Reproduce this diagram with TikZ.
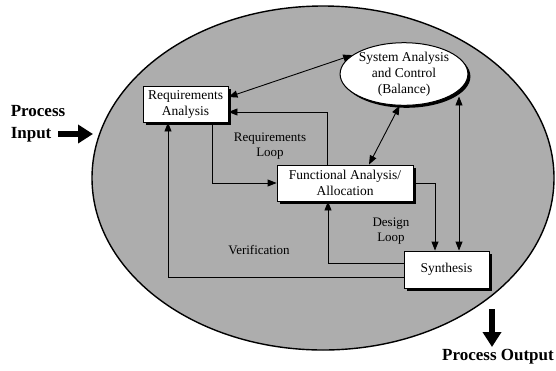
\documentclass[tikz,border=0pt]{standalone}
\usepackage{fontspec}
\setmainfont{Liberation Serif}
\usetikzlibrary{arrows.meta,shadows,calc,shapes.geometric}
\begin{document}
\begin{tikzpicture}[x=1pt,y=-1pt,
  box/.style={draw,fill=white,line width=0.9pt,align=center,inner sep=0pt,
    font=\fontsize{13.5}{16}\selectfont,
    drop shadow={shadow xshift=3pt,shadow yshift=-3pt,fill=black,opacity=1}},
  lbl/.style={align=center,font=\fontsize{13}{15}\selectfont},
  big/.style={align=left,font=\fontsize{17}{22}\selectfont\bfseries,inner sep=0pt},
  arr/.style={line width=0.9pt,-{Triangle[length=9pt,width=7pt]}},
  darr/.style={line width=0.9pt,{Triangle[length=9pt,width=7pt]}-{Triangle[length=9pt,width=7pt]}},
  fat/.style={line width=6pt,-{Triangle[length=15pt,width=18pt]}}]
\useasboundingbox (0,0) rectangle (556,370);
% big process ellipse
\draw[line width=1.4pt,fill=black!32] (323,178) ellipse [x radius=231pt,y radius=172pt];
% nodes
\node[box,minimum width=85pt,minimum height=36pt] (R) at (185.5,104) {Requirements\\Analysis};
\node[box,minimum width=136pt,minimum height=36pt] (F) at (345,183) {Functional Analysis/\\Allocation};
\node[box,minimum width=85pt,minimum height=37pt] (S) at (446.5,269.5) {Synthesis};
\node[draw,fill=white,ellipse,line width=1pt,minimum width=120pt,minimum height=62pt,inner sep=0pt,
  align=center,font=\fontsize{13.5}{16}\selectfont,
  drop shadow={shadow xshift=2.5pt,shadow yshift=-2.5pt,fill=black,opacity=1}] (A) at (404,74)
  {System Analysis\\and Control\\(Balance)};
% labels
\node[lbl] (rl) at (270,146) {Requirements\\Loop};
\node[lbl] (dl) at (391,231) {Design\\Loop};
\node[lbl] (vl) at (259,250) {Verification};
\node[big] (pin) at (38,124) {Process\\Input};
\node[big,anchor=east] (pout) at (554,357) {Process Output};
% connectors
\draw[darr] ([yshift=7pt]R.east) -- (A.160);
\draw[arr] ([xshift=-18pt]F.north) |- ([yshift=-8pt]R.east);
\draw[arr] ([xshift=26.5pt]R.south) |- (F.west);
\draw[darr] (A.262) -- ([xshift=24pt]F.north);
\draw[arr] (F.east) -| ([xshift=-11.5pt]S.north);
\draw[arr] ([yshift=6.5pt]S.west) -| ([xshift=-17pt]F.south);
\draw[darr] ([xshift=12.5pt]S.north) -- ([xshift=12.5pt]S.north |- A.south east);
\draw[arr] ([yshift=-7.5pt]S.west) -| ([xshift=-17.5pt]R.south);
% process input/output arrows
\coordinate (pinA) at (58,134);
\coordinate (pinB) at (93,134);
\draw[fat] (pinA) -- (pinB);
\coordinate (poA) at (492,309);
\coordinate (poB) at (492,347);
\draw[fat] (poA) -- (poB);
\end{tikzpicture}
\end{document}
